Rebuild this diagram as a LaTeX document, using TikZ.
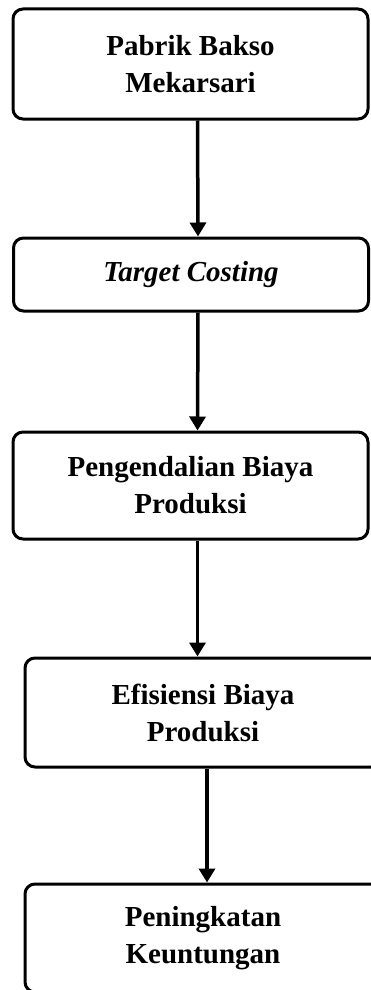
\documentclass[tikz,border=0pt]{standalone}
\usepackage{fontspec}
\setmainfont{Liberation Serif}
\usetikzlibrary{arrows.meta}

\begin{document}
\begin{tikzpicture}[x=1pt,y=-1pt,
    flowbox/.style={draw, line width=3pt, rounded corners=10pt, inner sep=0pt,
        minimum width=355pt, align=center, font=\fontsize{29}{37}\selectfont\bfseries},
    flowarrow/.style={line width=3.5pt, -{Triangle[width=16pt,length=14pt]}}]
    \clip (0,0) rectangle (371,990);                % picture frame

    \node [flowbox, minimum height=110pt] (pabrik) at (190.5,64)    % first box
        {Pabrik Bakso\\Mekarsari};
    \node [flowbox, minimum height=73pt] (target) at (191,274.5)
        {\textit{Target Costing}};
    \node [flowbox, minimum height=107pt] (kendali) at (190.5,485.5)
        {Pengendalian Biaya\\Produksi};
    \node [flowbox, minimum width=356pt, minimum height=109pt] (efisiensi) at (203,712.5)
        {Efisiensi Biaya\\Produksi};
    \node [flowbox, minimum width=356pt, minimum height=108pt] (untung) at (203,938)
        {Peningkatan\\Keuntungan};            % last box

    \draw [flowarrow] ([xshift=7pt]pabrik.south) -- ([xshift=7pt]target.north);
    \draw [flowarrow] ([xshift=7pt]target.south) -- ([xshift=7pt]kendali.north);
    \draw [flowarrow] ([xshift=7pt]kendali.south) -- ([xshift=7pt]efisiensi.north -| kendali.south);
    \draw [flowarrow] ([xshift=4pt]efisiensi.south) -- ([xshift=4pt]untung.north);
\end{tikzpicture}
\end{document}
